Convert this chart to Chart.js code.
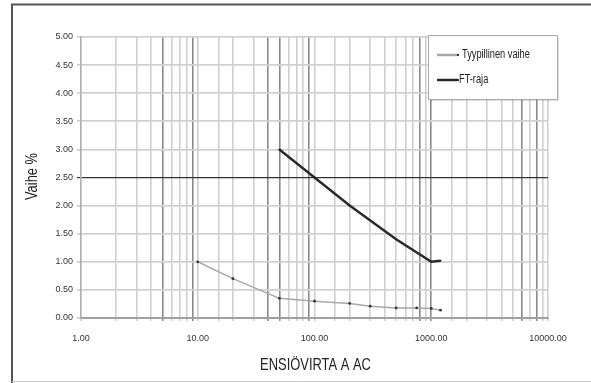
<!DOCTYPE html>
<html>
<head>
<meta charset="utf-8">
<script src="https://cdn.jsdelivr.net/npm/chart.js@4/dist/chart.umd.min.js"></script>
<style>
  html, body { margin: 0; padding: 0; background: #fff; }
  #wrap { width: 591px; height: 383px; }
</style>
</head>
<body>
<div id="wrap"><canvas id="phaseChart" width="591" height="383"></canvas></div>
<script>
  // Primary current (A AC) and phase error (%)
  const typCurrent = [10, 20, 50, 100, 200, 300, 500, 750, 1000, 1200];
  const typPhase   = [1.00, 0.70, 0.35, 0.30, 0.26, 0.21, 0.18, 0.18, 0.17, 0.14];
  const ftCurrent  = [50, 100, 200, 500, 1000, 1200];
  const ftPhase    = [3.00, 2.50, 2.00, 1.40, 1.00, 1.02];
  const seriesNames = ['Tyypillinen vaihe', 'FT-raja'];
  const xTitle = 'ENSIÖVIRTA A AC';
  const yTitle = 'Vaihe %';

  const FONT = "'Liberation Sans', Arial, sans-serif";

  // some of the log gridlines come out darker
  const darkX = [5, 9, 40, 50, 90, 800, 1000, 6000, 8000];

  const toPoints = (xs, ys) => xs.map((x, i) => ({ x: x, y: ys[i] }));

  // text squeezed horizontally, to get a condensed face
  function condensedText(c, text, x, y, size, sx, angle, align) {
    c.save();
    c.translate(x, y);
    if (angle) c.rotate(angle);
    c.scale(sx, 1);
    c.font = size + 'px ' + FONT;
    c.textAlign = align || 'center';
    c.textBaseline = 'middle';
    c.fillText(text, 0, 0);
    c.restore();
  }

  // outer frame around the figure
  const framePlugin = {
    id: 'frame',
    beforeDraw(chart) {
      const c = chart.ctx;
      c.save();
      c.fillStyle = '#fff';
      c.fillRect(0, 0, chart.width, chart.height);
      c.strokeStyle = '#555';
      c.lineWidth = 2;
      c.beginPath();
      c.moveTo(12, chart.height);
      c.lineTo(12, 4.5);
      c.lineTo(chart.width, 4.5);
      c.stroke();
      c.strokeStyle = '#ccc';
      c.lineWidth = 1;
      c.beginPath();
      c.moveTo(12, 381.5);
      c.lineTo(chart.width, 381.5);
      c.stroke();
      c.restore();
    }
  };

  // axis titles in a narrow face
  const axisTitles = {
    id: 'axisTitles',
    afterDraw(chart) {
      const c = chart.ctx;
      const a = chart.chartArea;
      c.save();
      c.fillStyle = '#222';
      condensedText(c, xTitle, (a.left + a.right) / 2 + 1, a.bottom + 47, 17, 0.76, 0);
      condensedText(c, yTitle, 32, (a.top + a.bottom) / 2 - 1, 17, 0.76, -Math.PI / 2);
      c.restore();
    }
  };

  // boxed legend sitting over the top right of the plot
  const boxLegend = {
    id: 'boxLegend',
    afterDatasetsDraw(chart) {
      const c = chart.ctx;
      const a = chart.chartArea;
      const x0 = a.right - 120, y0 = a.top - 2, w = 129, h = 64;
      c.save();
      c.fillStyle = 'rgba(0,0,0,0.12)';
      c.fillRect(x0 + 2, y0 + 2, w, h);
      c.fillStyle = '#fff';
      c.fillRect(x0, y0, w, h);
      c.strokeStyle = '#aaa';
      c.lineWidth = 1;
      c.strokeRect(x0 + 0.5, y0 + 0.5, w, h);
      chart.data.datasets.forEach((ds, i) => {
        const y = y0 + 20 + i * 25;
        c.strokeStyle = ds.borderColor;
        c.lineWidth = 2.5;
        c.beginPath();
        c.moveTo(x0 + 9, y);
        c.lineTo(x0 + 30, y);
        c.stroke();
        c.fillStyle = '#333';
        c.fillRect(x0 + 29, y - 1, 2, 2);
        c.fillStyle = '#222';
        condensedText(c, ds.label, x0 + 31 + (i === 0 ? 3 : 0), y, 12.5, 0.74, 0, 'left');
      });
      c.restore();
    }
  };

  new Chart(document.getElementById('phaseChart'), {
    type: 'scatter',
    data: {
      datasets: [
        {
          label: seriesNames[0],
          data: toPoints(typCurrent, typPhase),
          showLine: true,
          borderColor: '#a8a8a8',
          borderWidth: 1.5,
          pointRadius: 1.4,
          pointBackgroundColor: '#333',
          pointBorderWidth: 0
        },
        {
          label: seriesNames[1],
          data: toPoints(ftCurrent, ftPhase),
          showLine: true,
          borderColor: '#2a2a2a',
          borderWidth: 2.5,
          pointRadius: 1,
          pointBackgroundColor: '#222',
          pointBorderWidth: 0
        }
      ]
    },
    options: {
      responsive: false,
      animation: false,
      layout: { padding: { left: 12, top: 37, right: 43, bottom: 0 } },
      plugins: {
        legend: { display: false },
        tooltip: { enabled: false }
      },
      scales: {
        x: {
          type: 'logarithmic',
          min: 1,
          max: 10000,
          afterFit: (s) => { s.height = 65; },
          grid: {
            color: (ctx) => darkX.includes(ctx.tick && ctx.tick.value) ? '#8a8a8a' : '#cfcfcf',
            lineWidth: 1.6,
            tickLength: 3
          },
          border: { color: '#a0a0a0', width: 2 },
          ticks: {
            autoSkip: false,
            maxRotation: 0,
            padding: 12,
            color: '#333',
            font: { family: FONT, size: 9 },
            callback: (v) => {
              const e = Math.log10(v);
              return Math.abs(e - Math.round(e)) < 1e-9 ? Number(v).toFixed(2) : '';
            }
          }
        },
        y: {
          min: 0,
          max: 5,
          afterFit: (s) => { s.width = 69; },
          grid: {
            color: (ctx) => (ctx.tick && Math.abs(ctx.tick.value - 2.5) < 1e-9) ? '#333' : '#d0d0d0',
            lineWidth: (ctx) => (ctx.tick && Math.abs(ctx.tick.value - 2.5) < 1e-9) ? 1.2 : 1.8,
            tickLength: 4
          },
          border: { color: '#b0b0b0', width: 1.5 },
          ticks: {
            stepSize: 0.5,
            padding: 4,
            color: '#333',
            font: { family: FONT, size: 9 },
            callback: (v) => Number(v).toFixed(2)
          }
        }
      }
    },
    plugins: [framePlugin, axisTitles, boxLegend]
  });
</script>
</body>
</html>
